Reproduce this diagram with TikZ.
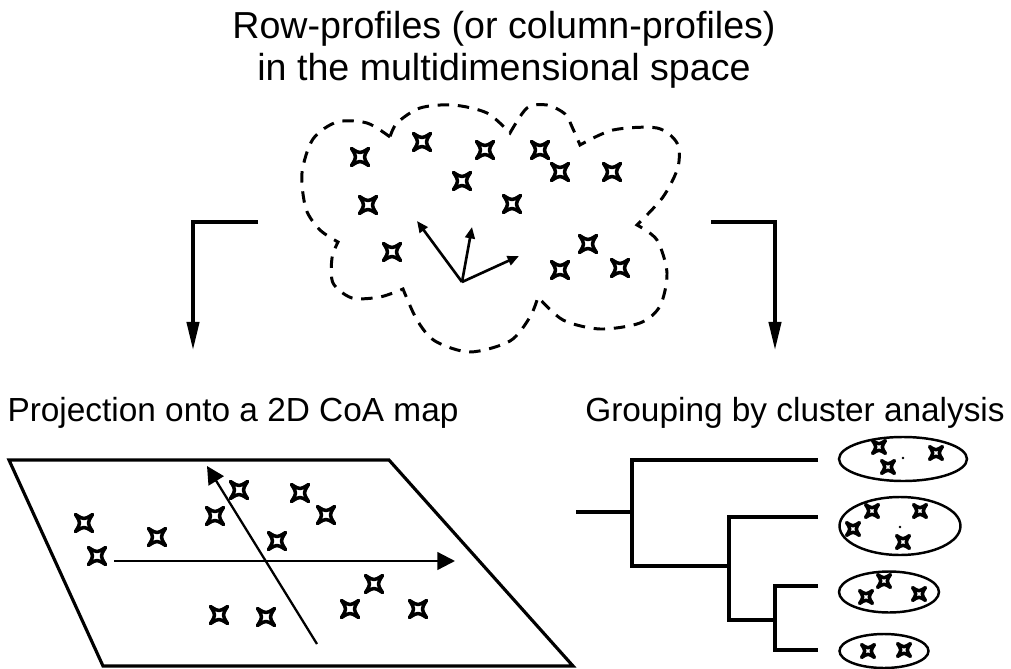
\documentclass[tikz,border=0pt]{standalone}
\usepackage{fontspec}
\setmainfont{Liberation Sans}
\usetikzlibrary{arrows.meta,shapes.geometric,positioning}
\tikzset{
  caption/.style={font=\fontsize{19}{24}\selectfont, inner sep=0pt, align=center},
  heading/.style={font=\fontsize{21.4}{23.8}\selectfont, inner sep=0pt, align=center},
  elbow/.style={line width=1.9pt, -{Triangle[length=16pt,width=7pt]}},
  map axis/.style={line width=1.3pt, -{Triangle[length=10pt,width=10pt]}},
  base vector/.style={line width=1.5pt, -{Triangle[length=6.5pt,width=5.5pt]}},
  cloud/.style={line width=1.7pt, dash pattern=on 6.5pt off 5pt},
  plane/.style={line width=1.8pt, line join=miter},
  cluster/.style={ellipse, draw, line width=1.4pt, inner sep=0pt},
  branch/.style={line width=1.8pt},
  sparkle/.pic={
    \draw[line width=2pt, line join=round, fill=white]
      (12,0) .. controls (2.2,2.2) .. (0,12) .. controls (-2.2,2.2) .. (-12,0)
      .. controls (-2.2,-2.2) .. (0,-12) .. controls (2.2,-2.2) .. (12,0) -- cycle;
  }
}

\begin{document}
\begin{tikzpicture}[x=0.02cm, y=-0.02cm]
    \useasboundingbox (0,0) rectangle (1011,669);

    % Titles
    \node[heading] (title) at (504,50) {Row-profiles (or column-profiles)\\in the multidimensional space};
    \node[caption, anchor=base] (proj) at (233,421) {Projection onto a 2D CoA map};
    \node[caption, anchor=base] (group) at (795,421) {Grouping by cluster analysis};

    % Cloud of profiles, one smooth piece per lobe
    \draw[cloud]
      plot[smooth] coordinates {(390,137) (367,123) (337,122) (313,139) (302,173) (306,209) (320,230) (338,242)}
      -- plot[smooth] coordinates {(338,242) (332,258) (333,283) (352,298) (380,297) (403,289)}
      -- plot[smooth] coordinates {(403,289) (417,320) (435,341) (470,352) (510,341) (530,317) (538,297)}
      -- plot[smooth] coordinates {(538,297) (563,320) (600,329) (640,323) (660,306) (667,273) (657,240) (637,225)}
      -- plot[smooth] coordinates {(637,225) (663,197) (678,167) (677,143) (657,128) (613,130) (580,145)}
      -- plot[smooth] coordinates {(580,145) (573,129) (565,114) (547,105) (527,108) (510,133)}
      -- plot[smooth] coordinates {(510,133) (487,113) (453,105) (420,108) (397,123) (390,137)};

    \pic[rotate=45] at (360,157) {sparkle};
    \pic[rotate=45] at (422,142) {sparkle};
    \pic[rotate=45] at (485,150) {sparkle};
    \pic[rotate=45] at (540,150) {sparkle};
    \pic[rotate=45] at (560,172) {sparkle};
    \pic[rotate=45] at (612,172) {sparkle};
    \pic[rotate=45] at (462,181) {sparkle};
    \pic[rotate=45] at (368,205) {sparkle};
    \pic[rotate=45] at (512,204) {sparkle};
    \pic[rotate=45] at (392,252) {sparkle};
    \pic[rotate=45] at (588,244) {sparkle};
    \pic[rotate=45] at (560,270) {sparkle};
    \pic[rotate=45] at (620,268) {sparkle};

    % Basis vectors
    \coordinate (o) at (462,282);
    \coordinate (e1) at (417,221);
    \coordinate (e2) at (472,227);
    \coordinate (e3) at (519,256);
    \draw[base vector] (o) -- (e1);
    \draw[base vector] (o) -- (e2);
    \draw[base vector] (o) -- (e3);

    % Elbow arrows down to the two methods
    \coordinate (ls) at (258,222);
    \coordinate (le) at (193,350);
    \coordinate (rs) at (711,222);
    \coordinate (re) at (775,350);
    \draw[elbow] (ls) -| (le);
    \draw[elbow] (rs) -| (re);

    % The CoA map plane
    \draw[plane] (9,460) -- (389,460) -- (573,666) -- (103,666) -- cycle;
    \coordinate (h0) at (114,561);
    \coordinate (h1) at (455,561);
    \coordinate (v0) at (317,644);
    \coordinate (v1) at (207,466);
    \draw[map axis] (h0) -- (h1);
    \draw[map axis] (v0) -- (v1);

    \pic[rotate=45] at (84,523) {sparkle};
    \pic[rotate=45] at (97,556) {sparkle};
    \pic[rotate=45] at (157,537) {sparkle};
    \pic[rotate=45] at (215,516) {sparkle};
    \pic[rotate=45] at (239,490) {sparkle};
    \pic[rotate=45] at (300,493) {sparkle};
    \pic[rotate=45] at (326,515) {sparkle};
    \pic[rotate=45] at (277,541) {sparkle};
    \pic[rotate=45] at (374,584) {sparkle};
    \pic[rotate=45] at (350,609) {sparkle};
    \pic[rotate=45] at (418,609) {sparkle};
    \pic[rotate=45] at (219,615) {sparkle};
    \pic[rotate=45] at (266,617) {sparkle};

    % Clusters
    \node[cluster, minimum width=2.56cm, minimum height=0.88cm] (c1) at (903,459) {};
    \node[cluster, minimum width=2.42cm, minimum height=1.16cm] (c2) at (900,526) {};
    \node[cluster, minimum width=2.0cm, minimum height=0.82cm] (c3) at (889,592) {};
    \node[cluster, minimum width=1.78cm, minimum height=0.68cm] (c4) at (884,651) {};

    \fill (903,458) circle (1.3);
    \fill (900,527) circle (1.3);

    \pic[rotate=45, scale=.75] at (879,447) {sparkle};
    \pic[rotate=45, scale=.75] at (936,453) {sparkle};
    \pic[rotate=45, scale=.75] at (888,467) {sparkle};
    \pic[rotate=45, scale=.75] at (872,511) {sparkle};
    \pic[rotate=45, scale=.75] at (920,511) {sparkle};
    \pic[rotate=45, scale=.75] at (853,529) {sparkle};
    \pic[rotate=45, scale=.75] at (903,542) {sparkle};
    \pic[rotate=45, scale=.75] at (884,581) {sparkle};
    \pic[rotate=45, scale=.75] at (866,597) {sparkle};
    \pic[rotate=45, scale=.75] at (919,594) {sparkle};
    \pic[rotate=45, scale=.75] at (868,651) {sparkle};
    \pic[rotate=45, scale=.75] at (904,650) {sparkle};

    % Dendrogram
    \coordinate (root) at (576,512);
    \coordinate (j1) at (632,512);
    \coordinate (j2) at (729,566);
    \coordinate (j3) at (775,620);
    \coordinate (l1) at (818,460);
    \coordinate (l2) at (818,517);
    \coordinate (l3) at (818,586);
    \coordinate (l4) at (818,650);
    \draw[branch] (root) -- (j1);
    \draw[branch] (l1) -| (j1) |- (j2);
    \draw[branch] (l2) -| (j2) |- (j3);
    \draw[branch] (l3) -| (j3) |- (l4);
\end{tikzpicture}
\end{document}
